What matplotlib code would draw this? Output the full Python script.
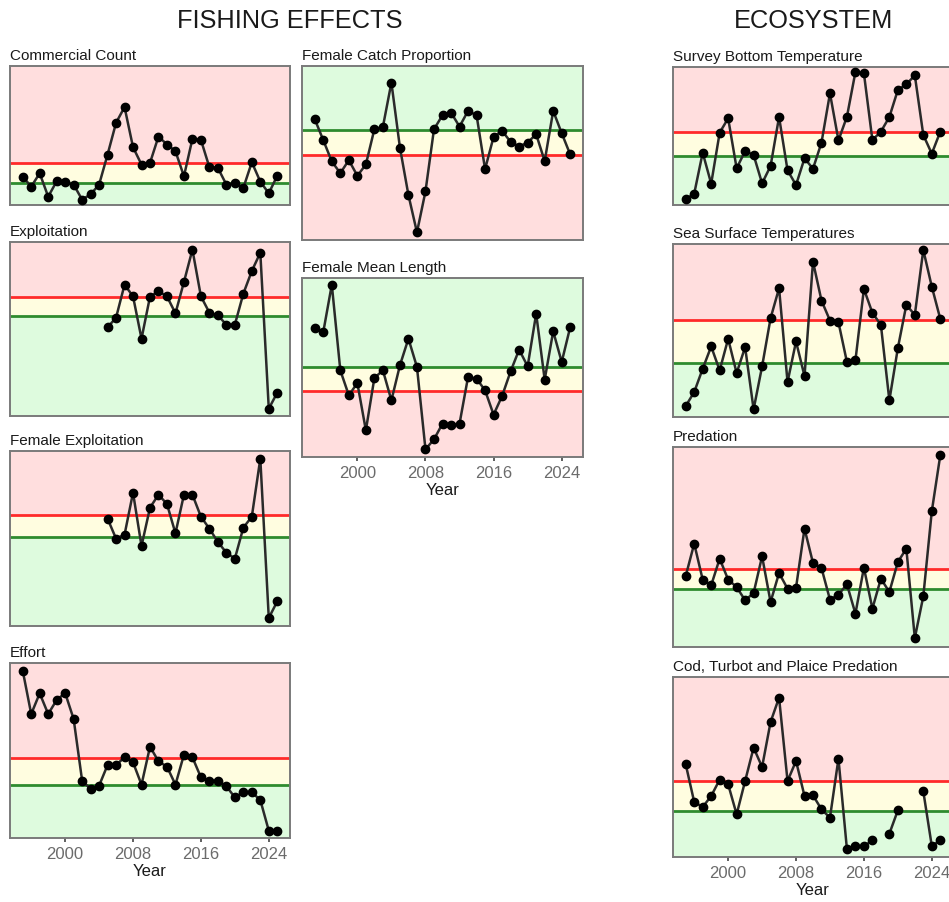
import numpy as np
import matplotlib
matplotlib.use("Agg")
from matplotlib import pyplot as plt

plt.rcParams["font.family"] = ["Liberation Sans", "DejaVu Sans"]

years = np.arange(1995, 2026)
years_recent = np.arange(2005, 2026)

# indicator series (index units) and their reference levels
commercial_count = [8.5, 5.5, 9.5, 2.5, 7.1, 6.8, 6.1, 1.6, 3.2, 6.1, 15.1, 24.6, 29.3, 17.3, 12.1, 12.6,
                    20.5, 18.1, 16.1, 8.6, 19.8, 19.5, 11.3, 11.1, 6.1, 6.5, 5.1, 12.8, 7.0, 3.5, 8.8]
commercial_count_ref = (12.5, 6.6)
commercial_count_lim = (0, 41.6)

exploitation = [26.6, 29.5, 39.4, 35.9, 23.2, 35.8, 37.4, 35.9, 30.8, 40.2, 49.9, 35.9, 31.0, 30.2,
                27.4, 27.4, 36.7, 43.5, 49.0, 2.2, 7.0]
exploitation_ref = (35.8, 29.9)
exploitation_lim = (0, 52.2)

female_exploitation = [32.2, 26.2, 27.4, 40.0, 24.0, 35.5, 39.4, 36.6, 27.8, 39.4, 39.4, 32.8, 29.2,
                       25.2, 22.0, 20.2, 29.5, 32.8, 50.2, 2.4, 7.4]
female_exploitation_ref = (33.3, 26.8)
female_exploitation_lim = (0, 52.5)

effort = [50.2, 37.2, 43.4, 37.2, 41.4, 43.5, 35.7, 17.2, 14.7, 15.7, 21.9, 21.9, 24.2, 22.7, 16.0, 27.4,
          23.0, 21.4, 16.0, 25.0, 24.2, 18.2, 17.2, 17.2, 15.5, 12.2, 13.7, 13.7, 11.4, 2.2, 2.2]
effort_ref = (23.9, 16.0)
effort_lim = (0, 52.5)

female_catch_prop = [36.3, 30.0, 23.6, 20.1, 24.0, 19.3, 22.7, 33.3, 34.0, 47.3, 27.8, 13.5, 2.3, 14.6,
                     33.3, 37.5, 38.3, 34.1, 38.8, 37.5, 21.3, 31.0, 32.8, 29.5, 28.1, 29.3, 31.8, 23.7,
                     38.8, 32.1, 25.7]
female_catch_prop_ref = (33.1, 25.5)
female_catch_prop_lim = (0, 52.3)

female_mean_length = [38.8, 37.5, 51.7, 26.0, 18.5, 22.2, 8.0, 23.7, 26.0, 17.0, 27.5, 35.5, 27.0, 2.3,
                      5.3, 10.0, 9.5, 10.0, 24.0, 23.5, 20.0, 12.7, 18.3, 25.7, 32.2, 27.2, 43.0, 23.2,
                      37.7, 28.5, 39.0]
female_mean_length_ref = (27.0, 19.7)
female_mean_length_lim = (0, 53.7)

bottom_temp = [1.7, 3.4, 15.7, 6.4, 21.7, 26.0, 11.0, 16.2, 15.0, 6.5, 11.7, 26.4, 10.4, 6.0, 14.0, 10.9,
               18.7, 33.5, 19.4, 26.5, 39.9, 39.5, 19.5, 22.0, 26.4, 34.5, 36.2, 38.9, 21.0, 15.4, 22.0]
bottom_temp_ref = (21.9, 14.8)
bottom_temp_lim = (0, 41.4)

surface_temp = [3.3, 7.5, 14.5, 21.2, 14.0, 23.5, 13.2, 21.0, 2.3, 15.2, 29.7, 38.7, 10.5, 22.7, 12.3,
                46.7, 35.0, 29.0, 28.5, 16.5, 17.0, 38.5, 31.3, 27.7, 5.0, 20.7, 33.7, 30.7, 50.2, 39.2,
                29.5]
surface_temp_ref = (29.3, 16.3)
surface_temp_lim = (0, 52.0)

predation = [21.3, 31.0, 20.2, 18.5, 26.5, 20.2, 18.0, 14.0, 16.2, 27.2, 13.5, 22.2, 17.5, 17.8, 35.5,
             25.2, 23.7, 14.2, 15.7, 18.8, 10.0, 23.8, 11.5, 20.5, 16.5, 25.5, 29.5, 2.7, 15.2, 40.7, 57.5]
predation_ref = (23.3, 17.5)
predation_lim = (0, 60.0)

nan = np.nan
fish_predation = [27.8, 16.5, 15.0, 18.3, 23.2, 21.8, 12.8, 22.8, 32.8, 27.0, 40.5, 47.8, 22.8, 28.8,
                  18.3, 18.5, 14.3, 11.8, 29.5, 2.3, 3.2, 3.2, 5.0, nan, 7.0, 14.0, nan, nan, 19.7, 3.3,
                  5.0]
fish_predation_ref = (22.7, 13.7)
fish_predation_lim = (0, 54.0)

tick_years = [2000, 2008, 2016, 2024]

RED_BG = "#ffdede"
YELLOW_BG = "#fffde0"
GREEN_BG = "#defbde"

W, H = 949, 903
fig = plt.figure(figsize=(W / 100, H / 100), dpi=100)


def add_panel(box, title, x, y, ref, ylim, high_is_bad=True, show_x=False):
    left, top, right, bottom = box
    ax = fig.add_axes([left / W, 1 - bottom / H, (right - left) / W, (bottom - top) / H])
    upper, lower = ref
    lo, hi = ylim
    top_col, bot_col = (RED_BG, GREEN_BG) if high_is_bad else (GREEN_BG, RED_BG)
    ax.axhspan(upper, hi, color=top_col, lw=0, zorder=0)
    ax.axhspan(lower, upper, color=YELLOW_BG, lw=0, zorder=0)
    ax.axhspan(lo, lower, color=bot_col, lw=0, zorder=0)
    ax.axhline(upper, color="#ff2a2a" if high_is_bad else "#2e8b2e", lw=2, zorder=1)
    ax.axhline(lower, color="#2e8b2e" if high_is_bad else "#ff2a2a", lw=2, zorder=1)
    ax.plot(x, y, color="#2a2a2a", lw=1.8, marker="o", ms=6, mfc="black", mec="black", zorder=3)
    ax.set_xlim(1993.5, 2026.5)
    ax.set_ylim(lo, hi)
    ax.set_yticks([])
    for s in ax.spines.values():
        s.set_color("#7a7a7a")
        s.set_linewidth(1.4)
    ax.set_title(title, loc="left", fontsize=11, pad=5, color="#1a1a1a")
    if show_x:
        ax.set_xticks(tick_years)
        ax.tick_params(axis="x", length=3, width=1.2, color="#444444", labelcolor="#6b6b6b",
                       labelsize=12, pad=3)
        ax.set_xlabel("Year", fontsize=12, labelpad=1.5, color="#1a1a1a")
    else:
        ax.set_xticks([])
    return ax


# fishing effects
add_panel((10, 67, 290, 206), "Commercial Count", years, commercial_count,
          commercial_count_ref, commercial_count_lim)
add_panel((10, 243, 290, 417), "Exploitation", years_recent, exploitation,
          exploitation_ref, exploitation_lim)
add_panel((10, 452, 290, 627), "Female Exploitation", years_recent, female_exploitation,
          female_exploitation_ref, female_exploitation_lim)
add_panel((10, 664, 290, 839), "Effort", years, effort, effort_ref, effort_lim, show_x=True)
add_panel((302, 67, 583, 241), "Female Catch Proportion", years, female_catch_prop,
          female_catch_prop_ref, female_catch_prop_lim, high_is_bad=False)
add_panel((302, 279, 583, 458), "Female Mean Length", years, female_mean_length,
          female_mean_length_ref, female_mean_length_lim, high_is_bad=False, show_x=True)

# ecosystem
add_panel((673, 68, 953, 206), "Survey Bottom Temperature", years, bottom_temp,
          bottom_temp_ref, bottom_temp_lim)
add_panel((673, 245, 953, 418), "Sea Surface Temperatures", years, surface_temp,
          surface_temp_ref, surface_temp_lim)
add_panel((673, 448, 953, 648), "Predation", years, predation, predation_ref, predation_lim)
add_panel((673, 678, 953, 858), "Cod, Turbot and Plaice Predation", years, fish_predation,
          fish_predation_ref, fish_predation_lim, show_x=True)

fig.text(290 / W, 1 - 21 / H, "FISHING EFFECTS", ha="center", va="center", fontsize=18.3,
         color="#1a1a1a")
fig.text(814 / W, 1 - 21 / H, "ECOSYSTEM", ha="center", va="center", fontsize=18.3,
         color="#1a1a1a")

fig.savefig("out.png", dpi=100, facecolor="white")
